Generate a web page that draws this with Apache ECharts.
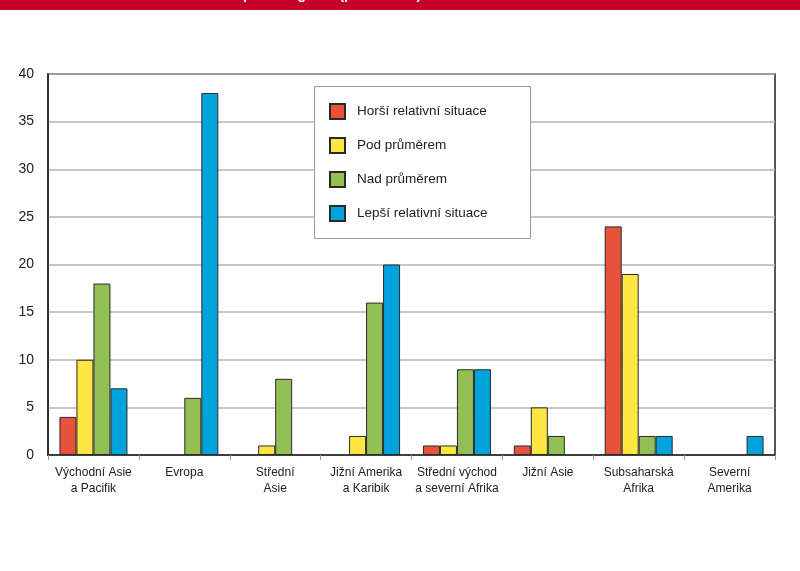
<!DOCTYPE html>
<html>
<head>
<meta charset="utf-8">
<script src="https://cdn.jsdelivr.net/npm/echarts@6/dist/echarts.min.js"></script>
<style>
  html, body { margin: 0; padding: 0; background: #fff; }
  #chart { width: 800px; height: 571px; }
</style>
</head>
<body>
<div id="chart"></div>
<script>
// 区域分类（x 轴）
const regions = [
  'Východní Asie\na Pacifik', 'Evropa', 'Střední\nAsie', 'Jižní Amerika\na Karibik',
  'Střední východ\na severní Afrika', 'Jižní Asie', 'Subsaharská\nAfrika', 'Severní\nAmerika'
];
const seriesNames = ['Horší relativní situace', 'Pod průměrem', 'Nad průměrem', 'Lepší relativní situace'];
// 各系列数值（null = 无柱）
const horsi = [4, null, null, null, 1, 1, 24, null];
const podPrumerem = [10, null, 1, 2, 1, 5, 19, null];
const nadPrumerem = [18, 6, 8, 16, 9, 2, 2, null];
const lepsi = [7, 38, null, 20, 9, null, 2, 2];
const yTicks = [0, 5, 10, 15, 20, 25, 30, 35, 40];

const colors = ['#E8523A', '#FFE640', '#93C055', '#00A3DC'];
const FONT = "'Liberation Sans Narrow', 'Arial Narrow', 'Liberation Sans', Arial, sans-serif";

const chart = echarts.init(document.getElementById('chart'));

const allData = [horsi, podPrumerem, nadPrumerem, lepsi];
const series = seriesNames.map((name, i) => ({
  name,
  type: 'bar',
  data: allData[i],
  barWidth: 17,
  barGap: '0%',
  itemStyle: { color: colors[i], borderColor: '#2a2a2a', borderWidth: 1 },
  emphasis: { disabled: true }
}));

chart.setOption({
  animation: false,
  textStyle: { fontFamily: FONT },
  graphic: [
    { type: 'rect', left: 0, top: 0, shape: { width: 800, height: 10 }, style: { fill: '#C4002B' }, z: 10 },
    {
      type: 'text', x: 243, y: -12, z: 11,
      style: { text: 'podle regionů (počet zemí)', fill: '#fff', font: 'bold 14px ' + FONT, verticalAlign: 'top' }
    },
    {
      type: 'rect', left: 314, top: 86, z: 5,
      shape: { width: 216, height: 152 },
      style: { fill: '#fff', stroke: '#9a9a9a', lineWidth: 1 }
    }
  ],
  legend: {
    orient: 'vertical',
    left: 324,
    top: 98,
    icon: 'rect',
    itemWidth: 15,
    itemHeight: 15,
    itemGap: 17,
    z: 6,
    data: seriesNames,
    textStyle: { fontSize: 13.5, color: '#222', fontFamily: FONT, padding: [0, 0, 0, 7] }
  },
  grid: {
    left: 48, right: 25, top: 74, bottom: 116,
    show: true, borderColor: '#222', borderWidth: 1.5
  },
  xAxis: {
    type: 'category',
    data: regions,
    axisLine: { lineStyle: { color: '#222', width: 1.5 } },
    axisTick: { show: true, length: 5, lineStyle: { color: '#999' } },
    axisLabel: { interval: 0, fontSize: 12, color: '#222', margin: 10, lineHeight: 16, fontFamily: FONT }
  },
  yAxis: {
    type: 'value',
    min: yTicks[0],
    max: yTicks[yTicks.length - 1],
    interval: 5,
    axisLine: { show: true, lineStyle: { color: '#222', width: 1.5 } },
    axisTick: { show: false },
    axisLabel: { fontSize: 14, color: '#222', margin: 14, fontFamily: FONT },
    splitLine: { lineStyle: { color: '#b5b5b5', width: 1.5 } }
  },
  series
});
</script>
</body>
</html>
